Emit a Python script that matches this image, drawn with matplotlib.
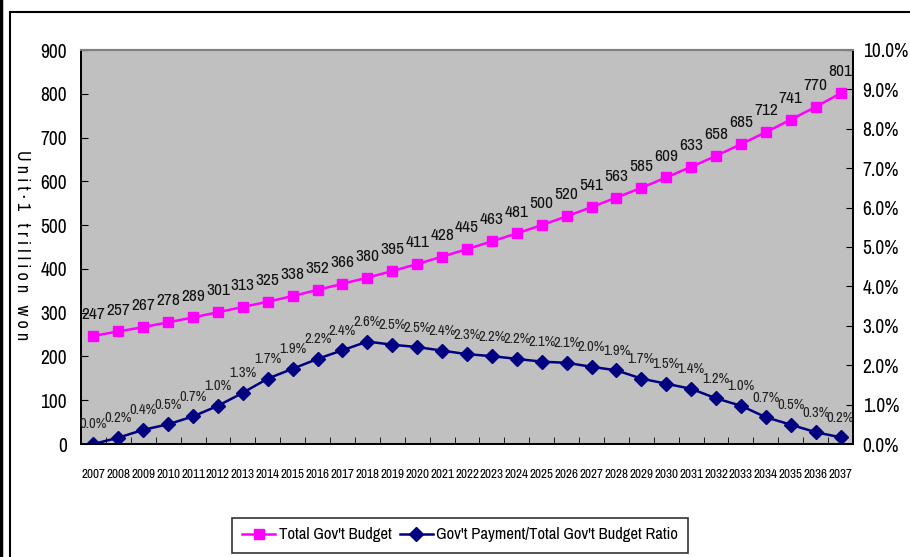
import matplotlib.pyplot as plt
import numpy as np
from matplotlib.patches import Rectangle
from matplotlib.lines import Line2D

plt.rcParams['font.family'] = ['Archivo Narrow', 'Liberation Sans', 'DejaVu Sans']

# data
years = [str(y) for y in range(2007, 2038)]
budget = [247, 257, 267, 278, 289, 301, 313, 325, 338, 352, 366, 380, 395, 411, 428, 445,
          463, 481, 500, 520, 541, 563, 585, 609, 633, 658, 685, 712, 741, 770, 801]
ratio = [0.0, 0.16, 0.36, 0.5, 0.7, 0.97, 1.3, 1.66, 1.91, 2.16, 2.38, 2.6, 2.52, 2.46, 2.37, 2.28,
         2.23, 2.16, 2.09, 2.06, 1.96, 1.87, 1.66, 1.53, 1.4, 1.16, 0.97, 0.68, 0.49, 0.3, 0.17]

pink = '#FF00FF'
navy = '#000080'

fig = plt.figure(figsize=(9.1, 5.57), dpi=100)
ax = fig.add_axes([81/910, 1-444/557, 772/910, 394/557])
ax.set_facecolor('#C0C0C0')
x = np.arange(len(years))

ax.plot(x, budget, color=pink, lw=1.8, marker='s', markersize=7, label='Total Gov\'t Budget')
ax.set_ylim(0, 900)
ax.set_yticks(range(0, 901, 100))
ax.set_xlim(-0.5, len(years) - 0.5)
ax.set_xticks(x)
ax.set_xticklabels(years, fontsize=9.5)
ax.set_xticks(np.arange(-0.5, len(years), 1), minor=True)
ax.tick_params(axis='x', which='major', length=0, pad=18)
ax.tick_params(axis='x', which='minor', direction='in', length=5, color='black')
ax.tick_params(axis='y', direction='in', length=5, labelsize=14, pad=10)

# budget labels
for i, v in enumerate(budget):
    ax.annotate(str(v), (i, v), textcoords='offset points', xytext=(0, 10),
                ha='center', va='bottom', fontsize=12.5, color='#111111')

ax2 = ax.twinx()
ax2.plot(x, ratio, color=navy, lw=1.8, marker='D', markersize=7, label='Gov\'t Payment/Total Gov\'t Budget Ratio')
ax2.set_ylim(0, 10)
ax2.set_yticks(range(0, 11))
ax2.set_yticklabels(['%.1f%%' % t for t in range(0, 11)])
ax2.tick_params(axis='y', direction='in', length=5, labelsize=14, pad=7)
for i, v in enumerate(ratio):
    ax2.annotate('%.1f%%' % v, (i, v), textcoords='offset points', xytext=(0, 9),
                 ha='center', va='bottom', fontsize=10.5, color='#202020')

for a in (ax, ax2):
    a.spines['top'].set_color('#808080')
    a.spines['top'].set_linewidth(1.5)
    for s in ('left', 'right', 'bottom'):
        a.spines[s].set_color('black')
        a.spines[s].set_linewidth(1.3)

fig.text(22/910, 1-245/557, 'U n i t · 1   t r i l l i o n   w o n', rotation=-90,
         ha='center', va='center', fontsize=13)

# legend
h1 = Line2D([], [], color=pink, lw=1.8, marker='s', markersize=7)
h2 = Line2D([], [], color=navy, lw=1.8, marker='D', markersize=7)
leg = fig.legend([h1, h2], ['Total Gov\'t Budget', 'Gov\'t Payment/Total Gov\'t Budget Ratio'],
                 loc='center', bbox_to_anchor=(460/910, 1-535/557), ncol=2, fontsize=12,
                 frameon=True, fancybox=False, edgecolor='black', handlelength=2.0,
                 handletextpad=0.2, columnspacing=0.5, borderpad=0.6, borderaxespad=0)
leg.get_frame().set_linewidth(1.2)

# outer frame lines
fig.add_artist(Rectangle((10/910, -0.05), 1.0, 1-12/557+0.05, transform=fig.transFigure,
                         fill=False, edgecolor='black', lw=1.5))
fig.add_artist(Line2D([1/910, 1/910], [0, 1], transform=fig.transFigure, color='black', lw=2.5))

fig.savefig('out.png', dpi=100)
